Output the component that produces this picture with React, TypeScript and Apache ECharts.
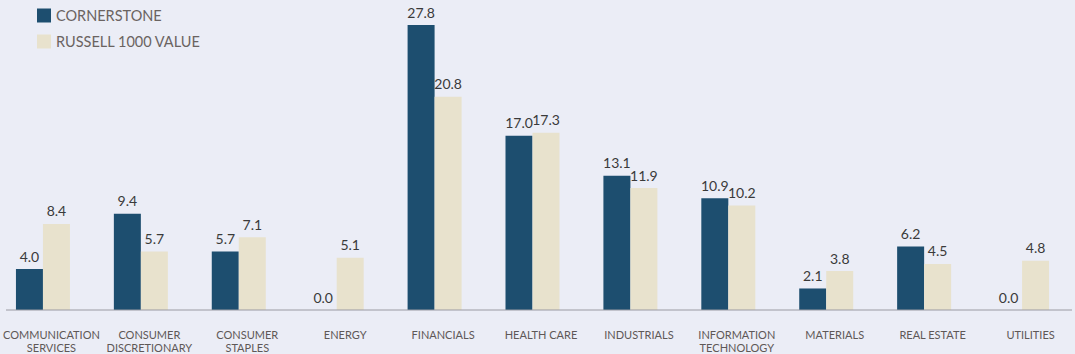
import React, { useEffect, useRef } from "react";
import * as echarts from "echarts";

const categories = [
  "COMMUNICATION\nSERVICES",
  "CONSUMER\nDISCRETIONARY",
  "CONSUMER\nSTAPLES",
  "ENERGY",
  "FINANCIALS",
  "HEALTH CARE",
  "INDUSTRIALS",
  "INFORMATION\nTECHNOLOGY",
  "MATERIALS",
  "REAL ESTATE",
  "UTILITIES",
];
const cornerstone = [4.0, 9.4, 5.7, 0.0, 27.8, 17.0, 13.1, 10.9, 2.1, 6.2, 0.0];
const russell = [8.4, 5.7, 7.1, 5.1, 20.8, 17.3, 11.9, 10.2, 3.8, 4.5, 4.8];

const FONT = "Lato, 'Open Sans', sans-serif";

export default function App() {
  const ref = useRef<HTMLDivElement>(null);
  useEffect(() => {
    document.body.style.margin = "0";
    const chart = echarts.init(ref.current!, undefined, { renderer: "svg" });
    const label = {
      show: true,
      position: "top" as const,
      distance: 6,
      color: "#3a3a3a",
      fontSize: 14,
      fontFamily: FONT,
      formatter: (p: any) => Number(p.value).toFixed(1),
    };
    chart.setOption({
      animation: false,
      backgroundColor: "#ebedf6",
      textStyle: { fontFamily: FONT },
      legend: {
        orient: "vertical",
        left: 37,
        top: 8,
        padding: 0,
        itemWidth: 14,
        itemHeight: 14,
        itemGap: 11,
        icon: "rect",
        textStyle: { color: "#6a6361", fontSize: 14.5, fontFamily: FONT },
        data: ["CORNERSTONE", "RUSSELL 1000 VALUE"],
      },
      grid: {
        left: -6,
        top: 2.5,
        height: 307.5,
        width: 1077,
        containLabel: false,
        outerBoundsMode: "none",
      },
      xAxis: {
        type: "category",
        data: categories,
        axisLine: { show: false },
        axisTick: { show: false },
        axisLabel: {
          color: "#5e5857",
          fontSize: 11,
          lineHeight: 13,
          margin: 18,
          interval: 0,
          padding: [0, 0, 0, 17],
          fontFamily: FONT,
        },
      },
      yAxis: {
        type: "value",
        min: 0,
        max: 30,
        show: false,
        splitLine: { show: false },
      },
      graphic: [
        {
          type: "line",
          shape: { x1: 6, y1: 310, x2: 1072, y2: 310 },
          style: { stroke: "#9a9aa2", lineWidth: 1 },
          z: 10,
        },
      ],
      series: [
        {
          name: "CORNERSTONE",
          type: "bar",
          data: cornerstone,
          itemStyle: { color: "#1d4e6f" },
          barWidth: 27,
          barGap: "0%",
          label,
        },
        {
          name: "RUSSELL 1000 VALUE",
          type: "bar",
          data: russell,
          itemStyle: { color: "#e8e2cd" },
          barWidth: 27,
          barGap: "0%",
          label,
        },
      ],
    });
    return () => chart.dispose();
  }, []);
  return <div ref={ref} style={{ width: 1075, height: 354 }} />;
}
